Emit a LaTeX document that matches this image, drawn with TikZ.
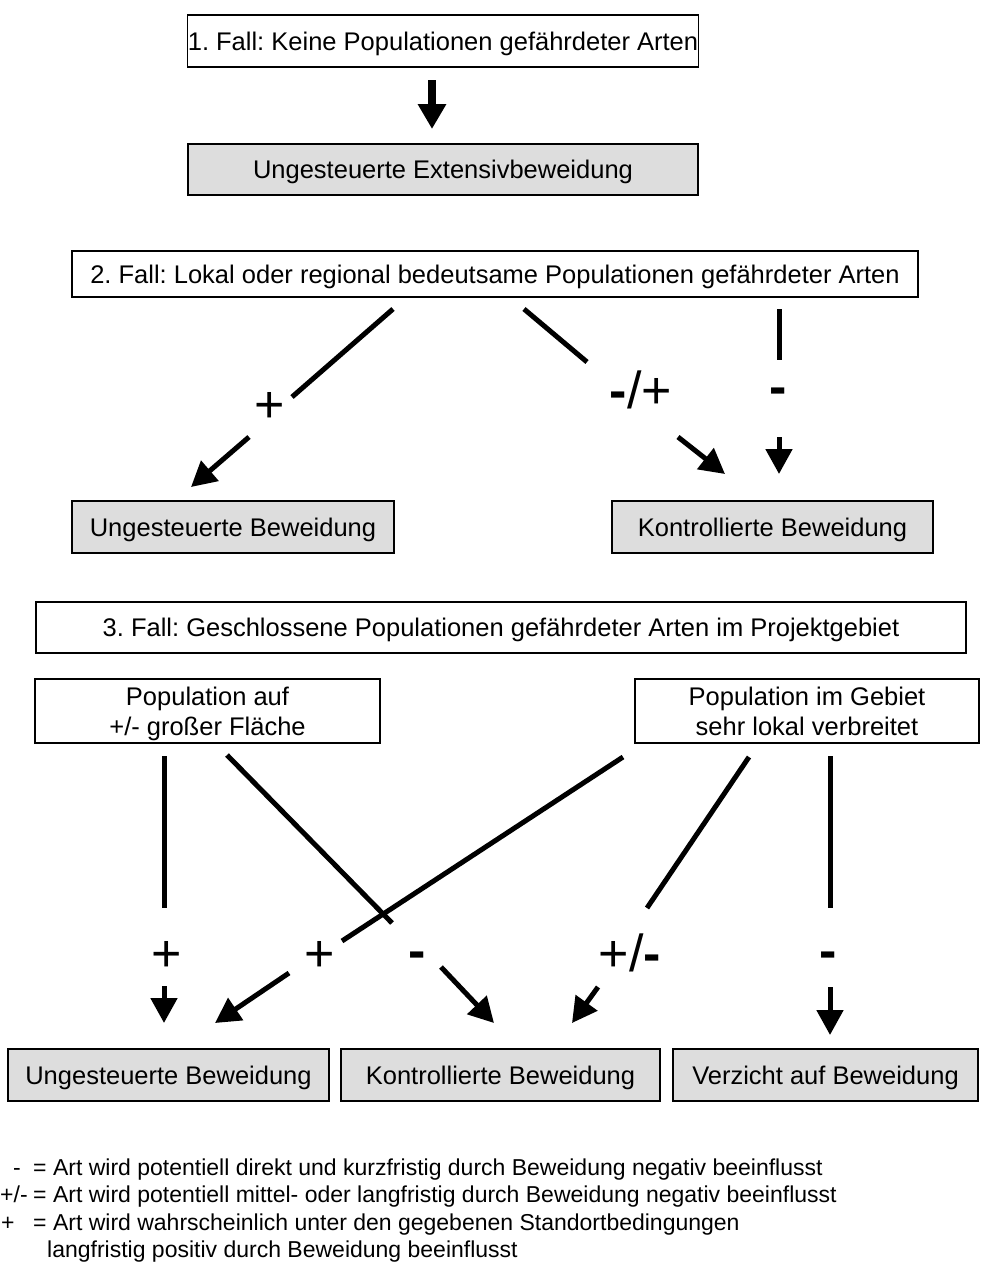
\documentclass[tikz,border=0pt]{standalone}
\usepackage{fontspec}
\setmainfont{Liberation Sans}
\usetikzlibrary{arrows.meta}
\definecolor{boxgray}{HTML}{DDDDDD}
\frenchspacing
\tikzset{
  boxbase/.style={draw=black, line width=1.3pt, inner sep=0pt, align=center,
              font=\fontsize{25.5}{30}\selectfont},
  box/.style={boxbase, text height=18.3pt, text depth=0pt},
  whitebox/.style={box, fill=white},
  graybox/.style={box, fill=boxgray},
  popbox/.style={boxbase, fill=white},
  conn/.style={line width=5pt},
  tipconn/.style={conn, -{Triangle[length=25pt,width=26pt]}},
  lbl/.style={anchor=base, inner sep=0pt, font=\fontsize{52}{52}\selectfont},
  legend/.style={anchor=base west, inner sep=0pt, font=\fontsize{23}{27}\selectfont}
}
\newcommand{\mn}{\textbf{-}}
\begin{document}
\begin{tikzpicture}[x=1pt,y=-1pt]
\useasboundingbox (0,0) rectangle (981,1262);

% ---------- Case 1
\node[whitebox, minimum width=510pt, minimum height=52pt] (f1) at (443,41)
  {1. Fall: Keine Populationen gefährdeter Arten};
\node[graybox, minimum width=510pt, minimum height=51pt] (e1) at (443,169.5)
  {Ungesteuerte Extensivbeweidung};
\coordinate (a1s) at (432,80);
\coordinate (a1e) at (432,129);
\draw[line width=8pt, -{Triangle[length=25pt,width=27pt]}] (a1s) -- (a1e);

% ---------- Case 2
\node[whitebox, minimum width=846pt, minimum height=46pt] (f2) at (495,274)
  {2. Fall: Lokal oder regional bedeutsame Populationen gefährdeter Arten};
\node[graybox, minimum width=322pt, minimum height=52pt] (u2) at (233,527)
  {Ungesteuerte Beweidung};
\node[graybox, minimum width=321pt, minimum height=52pt] (k2) at (772.5,527)
  {Kontrollierte Beweidung};

\node[lbl] (p2a) at (270,422) {+};
\node[lbl] (p2b) at (641,408) {\mn/+};
\node[lbl] (p2c) at (778,404) {\mn};

\coordinate (c2a1) at (393,309); \coordinate (c2a2) at (292,397);
\coordinate (c2a3) at (249,437); \coordinate (c2a4) at (191,487);
\draw[conn] (c2a1) -- (c2a2);
\draw[tipconn] (c2a3) -- (c2a4);

\coordinate (c2b1) at (524,309); \coordinate (c2b2) at (587,362);
\coordinate (c2b3) at (678,437); \coordinate (c2b4) at (725,474);
\draw[conn] (c2b1) -- (c2b2);
\draw[tipconn] (c2b3) -- (c2b4);

\coordinate (c2c1) at (779,309); \coordinate (c2c2) at (779,360);
\coordinate (c2c3) at (779,437); \coordinate (c2c4) at (779,474);
\draw[conn] (c2c1) -- (c2c2);
\draw[tipconn] (c2c3) -- (c2c4);

% ---------- Case 3
\node[whitebox, minimum width=930pt, minimum height=51pt] (f3) at (501,627.5)
  {3. Fall: Geschlossene Populationen gefährdeter Arten im Projektgebiet};
\node[popbox, minimum width=345pt, minimum height=64pt] (pa) at (207.5,711)
  {\rule{0pt}{23.5pt}Population auf\\+/- großer Fläche};
\node[popbox, minimum width=344pt, minimum height=64pt] (pb) at (807,711)
  {Population im Gebiet\\sehr lokal verbreitet};
\node[graybox, minimum width=321pt, minimum height=52pt] (u3) at (168.5,1075)
  {Ungesteuerte Beweidung};
\node[graybox, minimum width=319pt, minimum height=52pt] (k3) at (500.5,1075)
  {Kontrollierte Beweidung};
\node[graybox, minimum width=305pt, minimum height=52pt] (v3) at (825.5,1075)
  {Verzicht auf Beweidung};

\node[lbl] (p3a) at (167,971) {+};
\node[lbl] (p3b) at (320,971) {+};
\node[lbl] (p3c) at (417,968) {\mn};
\node[lbl] (p3d) at (630,971) {+/\mn};
\node[lbl] (p3e) at (828,968) {\mn};

\coordinate (c3a1) at (164,756); \coordinate (c3a2) at (164,908);
\coordinate (c3a3) at (164,986); \coordinate (c3a4) at (164,1023);
\draw[conn] (c3a1) -- (c3a2);
\draw[tipconn] (c3a3) -- (c3a4);

\coordinate (c3b1) at (227,755); \coordinate (c3b2) at (392,923);
\coordinate (c3b3) at (441,967); \coordinate (c3b4) at (494,1023);
\draw[conn] (c3b1) -- (c3b2);
\draw[tipconn] (c3b3) -- (c3b4);

\coordinate (c3c1) at (623,757); \coordinate (c3c2) at (342,941);
\coordinate (c3c3) at (289,973); \coordinate (c3c4) at (215,1023);
\draw[conn] (c3c1) -- (c3c2);
\draw[tipconn] (c3c3) -- (c3c4);

\coordinate (c3d1) at (749,757); \coordinate (c3d2) at (647,908);
\coordinate (c3d3) at (598,987); \coordinate (c3d4) at (572,1023);
\draw[conn] (c3d1) -- (c3d2);
\draw[tipconn] (c3d3) -- (c3d4);

\coordinate (c3e1) at (830,756); \coordinate (c3e2) at (830,908);
\coordinate (c3e3) at (830,987); \coordinate (c3e4) at (830,1035);
\draw[conn] (c3e1) -- (c3e2);
\draw[tipconn] (c3e3) -- (c3e4);

% ---------- Legend
\node[legend] (g1a) at (13,1175) {-};
\node[legend] (g1b) at (33,1175) {= Art wird potentiell direkt und kurzfristig durch Beweidung negativ beeinflusst};
\node[legend] (g2a) at (0,1202) {+/-};
\node[legend] (g2b) at (33,1202) {= Art wird potentiell mittel- oder langfristig durch Beweidung negativ beeinflusst};
\node[legend] (g3a) at (1,1230) {+};
\node[legend] (g3b) at (33,1230) {= Art wird wahrscheinlich unter den gegebenen Standortbedingungen};
\node[legend] (g4) at (47,1257) {langfristig positiv durch Beweidung beeinflusst};
\end{tikzpicture}
\end{document}
